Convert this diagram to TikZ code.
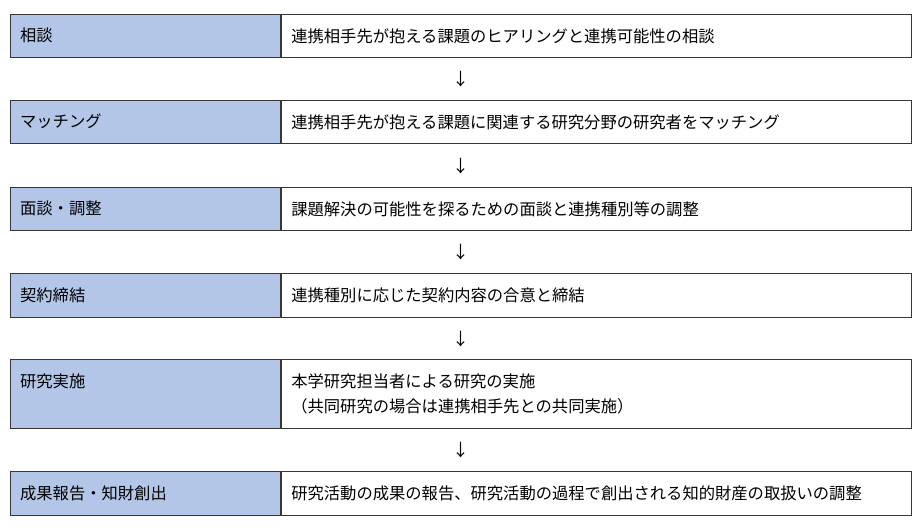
\documentclass[tikz,border=0pt]{standalone}
\usepackage{fontspec}
\setmainfont{Noto Sans CJK JP}
\usetikzlibrary{positioning, calc}
\definecolor{stageblue}{RGB}{180, 198, 231}
\definecolor{frame}{RGB}{55, 55, 55}

\begin{document}
\begin{tikzpicture}[x=1pt, y=-1pt,
    every node/.style={font=\fontsize{16.3}{25}\selectfont},
    stage/.style={draw=frame, line width=1.2pt, fill=stageblue, anchor=north west,
        text width=250pt, inner xsep=10pt, align=left, text height=13pt},
    detail/.style={draw=frame, line width=1.2pt, fill=white,
        text width=610pt, inner xsep=10pt, align=left},
    flow/.style={inner sep=0pt}]
    \useasboundingbox (0,0) rectangle (920,530);

    % Stages: name on the left, content on the right
    \foreach \i/\ytop/\hgt/\dep/\lab/\desc in {
        1/14/43/2/相談/{連携相手先が抱える課題のヒアリングと連携可能性の相談},
        2/100/43/2/マッチング/{連携相手先が抱える課題に関連する研究分野の研究者をマッチング},
        3/187/43/2/面談・調整/{課題解決の可能性を探るための面談と連携種別等の調整},
        4/273/44/2/契約締結/{連携種別に応じた契約内容の合意と締結},
        5/359/69/27/研究実施/{本学研究担当者による研究の実施\\（共同研究の場合は連携相手先との共同実施）},
        6/471/44/2/成果報告・知財創出/{研究活動の成果の報告、研究活動の過程で創出される知的財産の取扱いの調整}} {
        \node[stage, minimum height=\hgt, text depth=\dep pt] (lab\i) at (9.5,\ytop) {\lab};
        \node[detail, minimum height=\hgt, right=0pt of lab\i] (desc\i) {\desc};
    }

    % Down arrows between the stages
    \foreach \i/\j in {1/2, 2/3, 3/4, 4/5, 5/6}
        \node[flow, font=\fontsize{17}{20}\selectfont] (arrow\i) at ($(desc\i.south west)!.5!(desc\j.north west)+(180,0)$) {↓};
\end{tikzpicture}
\end{document}
